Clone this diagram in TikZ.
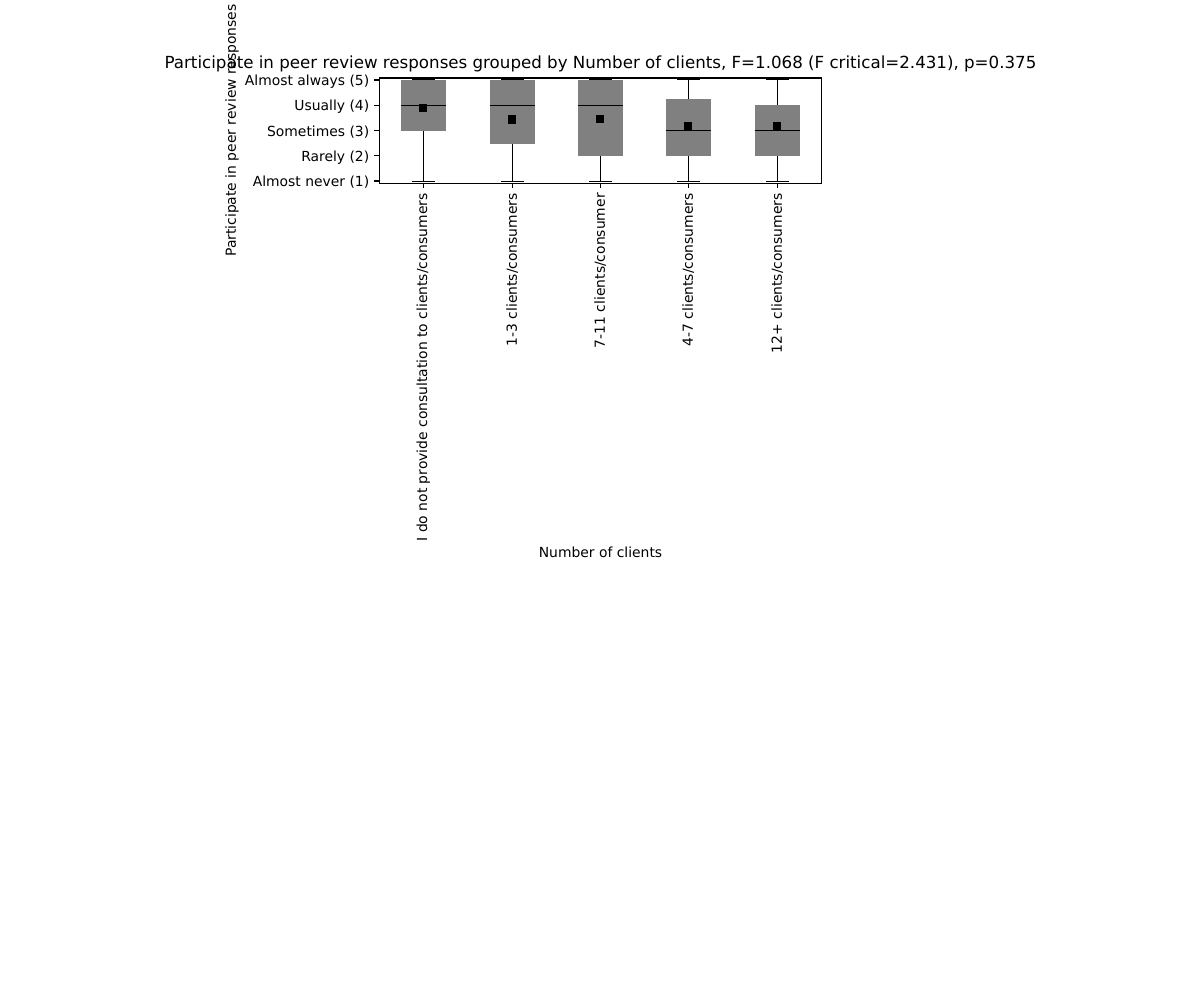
\documentclass[tikz,border=0pt]{standalone}
\usepackage{fontspec}
\setmainfont{DejaVu Sans}
\begin{document}
\begin{tikzpicture}[x=0.72pt,y=-0.72pt,
  axisline/.style={line width=0.8pt,black},
  tick/.style={line width=0.8pt,black},
  whisk/.style={line width=0.72pt,black},
  boxfill/.style={fill={rgb,255:red,128;green,128;blue,128},draw={rgb,255:red,128;green,128;blue,128},line width=0.6pt},
  medline/.style={line width=0.72pt,black},
  meanmark/.style={fill=black,draw=none,minimum size=6pt,inner sep=0pt,outer sep=0pt,rectangle},
  ticklab/.style={font=\fontsize{10}{12}\selectfont,inner sep=0pt},
  lab/.style={font=\fontsize{10}{12}\selectfont,inner sep=0pt},
  ttl/.style={font=\fontsize{12}{14}\selectfont,inner sep=0pt}]
\useasboundingbox (0,0) rectangle (1200,1000);
% boxes: center x, whislo, q1, med, q3, whishi, mean
\foreach \cx/\lo/\qa/\me/\qb/\hi/\mn [count=\i] in {
  423.3/1/3/4/5/5/3.88,
  512.3/1/2.5/4/5/5/3.44,
  600.3/1/2/4/5/5/3.45,
  688.3/1/2/3/4.25/5/3.18,
  777.3/1/2/3/4/5/3.18}{
  \pgfmathsetmacro{\ylo}{80+(5-\lo)*25.25}
  \pgfmathsetmacro{\yqa}{80+(5-\qa)*25.25}
  \pgfmathsetmacro{\yme}{80+(5-\me)*25.25}
  \pgfmathsetmacro{\yqb}{80+(5-\qb)*25.25}
  \pgfmathsetmacro{\yhi}{80+(5-\hi)*25.25}
  \pgfmathsetmacro{\ymn}{80+(5-\mn)*25.25}
  \coordinate (lo\i) at (\cx,\ylo);
  \coordinate (qa\i) at (\cx,\yqa);
  \coordinate (qb\i) at (\cx,\yqb);
  \coordinate (hi\i) at (\cx,\yhi);
  \draw[whisk] (lo\i) -- (qa\i);
  \draw[whisk] (qb\i) -- (hi\i);
  \draw[whisk] ([xshift=-11.3*0.72pt]lo\i) -- ([xshift=11.3*0.72pt]lo\i);
  \draw[whisk] ([xshift=-11.3*0.72pt]hi\i) -- ([xshift=11.3*0.72pt]hi\i);
  \filldraw[boxfill] (\cx-22.2,\yqa) rectangle (\cx+22.2,\yqb);
  \draw[medline] (\cx-22.6,\yme) -- (\cx+22.6,\yme);
  \node[meanmark] (mean\i) at (\cx,\ymn) {};
  % x tick
  \draw[tick] (\cx,183.3) -- (\cx,188.2);
}
% axes frame
\draw[axisline] (379.3,78) rectangle (821.7,183.3);
% y ticks and labels
\foreach \v/\t in {5/Almost always (5),4/Usually (4),3/Sometimes (3),2/Rarely (2),1/Almost never (1)}{
  \pgfmathsetmacro{\yy}{80+(5-\v)*25.25}
  \draw[tick] (379.3,\yy) -- (374.4,\yy);
  \node[ticklab,anchor=east] (yl\v) at (369.5,\yy+1.5) {\t};
}
% x tick labels
\node[ticklab,rotate=90,anchor=east] (xl1) at (423.3,193) {I do not provide consultation to clients/consumers};
\node[ticklab,rotate=90,anchor=east] (xl2) at (512.3,193) {1-3 clients/consumers};
\node[ticklab,rotate=90,anchor=east] (xl3) at (600.3,193) {7-11 clients/consumer};
\node[ticklab,rotate=90,anchor=east] (xl4) at (688.3,193) {4-7 clients/consumers};
\node[ticklab,rotate=90,anchor=east] (xl5) at (777.3,193) {12+ clients/consumers};
% axis labels
\node[lab] (xlab) at (600.5,552) {Number of clients};
\node[lab,rotate=90] (ylab) at (232,130.5) {Participate in peer review responses};
% title
\node[ttl] (title) at (600.5,63.5) {Participate in peer review responses grouped by Number of clients, F=1.068 (F critical=2.431), p=0.375};
\end{tikzpicture}
\end{document}
